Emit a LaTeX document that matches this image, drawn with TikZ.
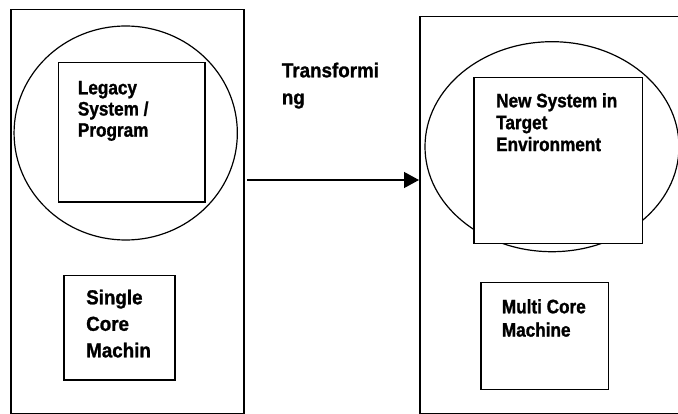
\documentclass[tikz,border=0pt]{standalone}
\usepackage{fontspec}
\setmainfont{Liberation Sans}[FakeStretch=0.88, BoldFont={Liberation Sans Bold}, BoldFeatures={FakeBold=1.2}]
\newfontfamily\fontB{Liberation Sans}[FakeStretch=0.93, BoldFont={Liberation Sans Bold}, BoldFeatures={FakeBold=1.2}]
\usetikzlibrary{shapes.geometric,arrows.meta}
\newcommand\stk[2]{\vtop{\baselineskip=#1\lineskiplimit=-100pt#2}}
\tikzset{
  boxshape/.style={draw, line width=1.5pt, rectangle, inner sep=0pt, anchor=north west, fill=white},
  ovalshape/.style={draw, line width=1.2pt, ellipse, inner sep=0pt},
  txtA/.style={anchor=base west, inner sep=0pt, font=\bfseries\fontsize{19.5pt}{21.5pt}\selectfont},
  txtB/.style={anchor=base west, inner sep=0pt, font=\fontB\bfseries\fontsize{20.2pt}{26.7pt}\selectfont},
  arrowline/.style={line width=1.3pt, -{Triangle[length=15pt,width=16pt]}}
}
\begin{document}
\begin{tikzpicture}[x=1pt,y=-1pt]
\useasboundingbox (0,0) rectangle (678,414);
\clip (0,0) rectangle (678,414);
% left side
\node[boxshape, minimum width=233pt, minimum height=403.5pt] (leftrect) at (10,9) {};
\node[ovalshape, minimum width=223.3pt, minimum height=214pt] (leftoval) at (125.7,133) {};
\node[boxshape, minimum width=146.8pt, minimum height=139.6pt] (legacybox) at (57.5,61.7) {};
\node[txtA] (legacytxt) at (77.7,94.3) {\stk{21.2pt}{\hbox{Legacy}\hbox{System /}\hbox{Program}}};
\node[boxshape, minimum width=111pt, minimum height=104pt] (singlebox) at (63,275) {};
\node[txtB] (singletxt) at (86,304.3) {\stk{26.5pt}{\hbox{Single}\hbox{Core}\hbox{Machin}}};
% middle
\node[txtB] (transtxt) at (281.7,77.3) {\stk{27pt}{\hbox{Transformi}\hbox{ng}}};
% right side
\node[boxshape, minimum width=290pt, minimum height=396.7pt] (rightrect) at (419,16) {};
\node[ovalshape, minimum width=254pt, minimum height=210pt] (rightoval) at (552,146.7) {};
\node[boxshape, minimum width=168.4pt, minimum height=166.3pt] (newbox) at (473.3,76.7) {};
\node[txtA] (newtxt) at (496,107.3) {\stk{21.9pt}{\hbox{New System in}\hbox{Target}\hbox{Environment}}};
\node[boxshape, minimum width=127.7pt, minimum height=107pt] (multibox) at (480,281.7) {};
\node[txtA] (multitxt) at (501.7,313.3) {\stk{23.3pt}{\hbox{Multi Core}\hbox{Machine}}};
% arrow
\coordinate (arrstart) at (247,180);
\draw[arrowline] (arrstart) -- (arrstart -| rightrect.west);
\end{tikzpicture}
\end{document}
